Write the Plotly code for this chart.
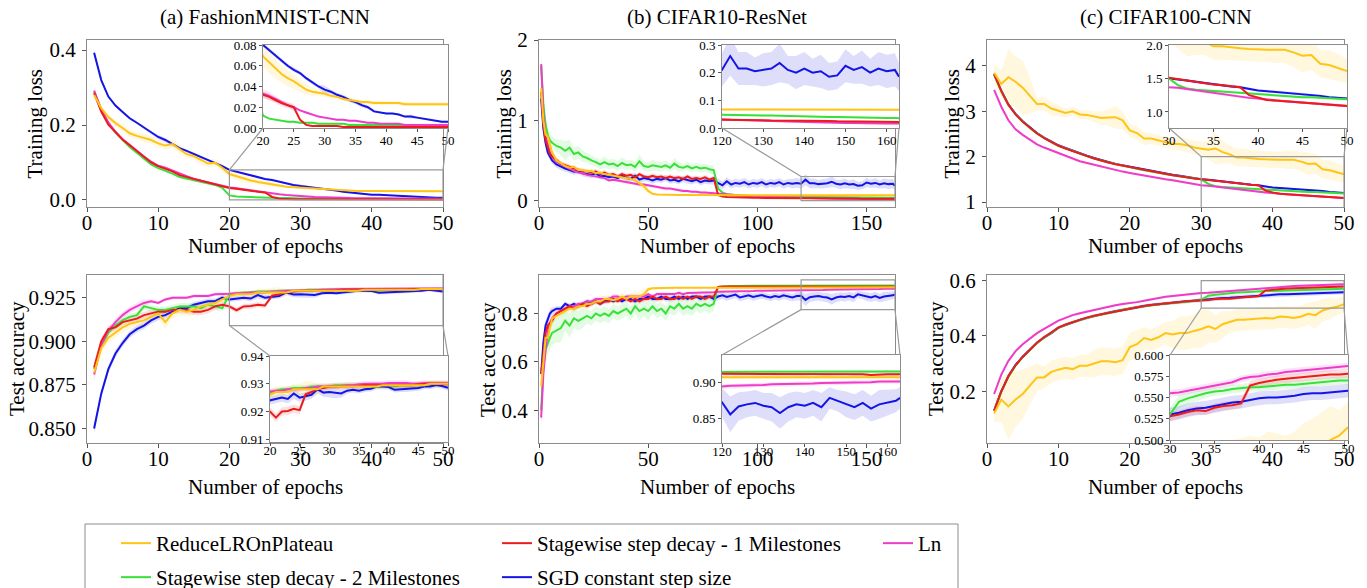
import plotly.graph_objects as go

W, H = 1367, 588
FONT = "Liberation Serif, Times New Roman, DejaVu Serif, serif"

EPOCHS = list(range(1, 51))
EPOCHS_B = [1, 2, 3, 4, 5, 6] + list(range(8, 163, 2)) + [163]

NAMES = {
    "plateau": "ReduceLROnPlateau",
    "step1": "Stagewise step decay - 1 Milestones",
    "ln": "Ln",
    "step2": "Stagewise step decay - 2 Milestones",
    "sgd": "SGD constant step size",
}
COLORS = {
    "plateau": "#ffc414",
    "step1": "#ec1c1c",
    "ln": "#ee3cc8",
    "step2": "#3ae03a",
    "sgd": "#1414e6",
}
DRAW_ORDER = ["sgd", "step2", "ln", "step1", "plateau"]
LEGEND_RANK = {"plateau": 1, "step1": 2, "ln": 3, "step2": 4, "sgd": 5}

# ---------------- (a) FashionMNIST-CNN : training loss ----------------
a_loss_plateau = [0.280, 0.245, 0.221, 0.205, 0.192, 0.178, 0.171, 0.165, 0.160, 0.151,
                  0.145, 0.149, 0.136, 0.122, 0.117, 0.106, 0.097, 0.099, 0.086, 0.069,
                  0.063, 0.057, 0.052, 0.048, 0.045, 0.041, 0.037, 0.035, 0.034, 0.033,
                  0.031, 0.030, 0.028, 0.027, 0.026, 0.025, 0.025, 0.024, 0.024, 0.024,
                  0.024, 0.024, 0.023, 0.023, 0.023, 0.023, 0.023, 0.023, 0.023, 0.023]
a_loss_plateau_sd = [0.004, 0.005, 0.006, 0.008, 0.010, 0.010, 0.010, 0.010, 0.010, 0.010,
                     0.010, 0.012, 0.012, 0.010, 0.010, 0.012, 0.010, 0.010, 0.010, 0.010,
                     0.010, 0.009, 0.008, 0.008, 0.007, 0.006, 0.005, 0.004, 0.003, 0.003,
                     0.002, 0.002, 0.002, 0.002, 0.002, 0.002, 0.002, 0.002, 0.002, 0.002,
                     0.002, 0.002, 0.002, 0.002, 0.002, 0.002, 0.002, 0.002, 0.002, 0.002]
a_loss_step1 = [0.285, 0.236, 0.201, 0.181, 0.161, 0.146, 0.131, 0.115, 0.100, 0.090,
                0.084, 0.076, 0.066, 0.061, 0.055, 0.050, 0.046, 0.042, 0.036, 0.032,
                0.030, 0.027, 0.024, 0.022, 0.020, 0.008, 0.003, 0.002, 0.002, 0.002,
                0.002, 0.002, 0.001, 0.001, 0.001, 0.001, 0.001, 0.001, 0.001, 0.001,
                0.001, 0.001, 0.001, 0.001, 0.001, 0.001, 0.001, 0.001, 0.001, 0.001]
a_loss_step1_sd = [0.004, 0.003, 0.003, 0.003, 0.003, 0.003, 0.003, 0.003, 0.003, 0.003,
                   0.003, 0.003, 0.002, 0.002, 0.002, 0.002, 0.002, 0.002, 0.003, 0.003,
                   0.003, 0.003, 0.003, 0.003, 0.003, 0.002, 0.001, 0.001, 0.001, 0.001,
                   0.001, 0.001, 0.001, 0.001, 0.001, 0.001, 0.001, 0.001, 0.001, 0.001,
                   0.001, 0.001, 0.001, 0.001, 0.001, 0.001, 0.001, 0.001, 0.001, 0.001]
a_loss_ln = [0.292, 0.242, 0.207, 0.182, 0.162, 0.146, 0.131, 0.116, 0.102, 0.091,
             0.086, 0.078, 0.069, 0.063, 0.056, 0.051, 0.046, 0.041, 0.037, 0.033,
             0.031, 0.028, 0.025, 0.022, 0.020, 0.017, 0.015, 0.013, 0.011, 0.010,
             0.009, 0.008, 0.008, 0.007, 0.007, 0.006, 0.005, 0.005, 0.004, 0.004,
             0.004, 0.004, 0.003, 0.003, 0.003, 0.003, 0.003, 0.003, 0.003, 0.003]
a_loss_ln_sd = [0.005, 0.004, 0.004, 0.003, 0.003, 0.003, 0.003, 0.003, 0.003, 0.003,
                0.003, 0.003, 0.003, 0.003, 0.003, 0.003, 0.003, 0.003, 0.004, 0.004,
                0.004, 0.003, 0.002, 0.002, 0.002, 0.001, 0.001, 0.001, 0.001, 0.001,
                0.001, 0.001, 0.001, 0.001, 0.001, 0.001, 0.001, 0.001, 0.001, 0.001,
                0.001, 0.001, 0.001, 0.001, 0.001, 0.001, 0.001, 0.001, 0.001, 0.001]
a_loss_step2 = [0.290, 0.240, 0.205, 0.180, 0.160, 0.141, 0.126, 0.110, 0.095, 0.085,
                0.078, 0.070, 0.061, 0.057, 0.052, 0.048, 0.044, 0.040, 0.032, 0.012,
                0.009, 0.008, 0.007, 0.006, 0.006, 0.005, 0.005, 0.005, 0.004, 0.004,
                0.004, 0.004, 0.004, 0.003, 0.003, 0.003, 0.003, 0.003, 0.003, 0.003,
                0.003, 0.003, 0.003, 0.003, 0.002, 0.002, 0.002, 0.002, 0.002, 0.002]
a_loss_step2_sd = [0.003, 0.002, 0.002, 0.002, 0.002, 0.002, 0.002, 0.002, 0.002, 0.002,
                   0.002, 0.002, 0.002, 0.002, 0.002, 0.002, 0.002, 0.002, 0.002, 0.001,
                   0.001, 0.001, 0.001, 0.001, 0.001, 0.001, 0.001, 0.001, 0.001, 0.001,
                   0.001, 0.001, 0.001, 0.001, 0.001, 0.001, 0.001, 0.001, 0.001, 0.001,
                   0.001, 0.001, 0.001, 0.001, 0.001, 0.001, 0.001, 0.001, 0.001, 0.001]
a_loss_sgd = [0.393, 0.320, 0.276, 0.252, 0.235, 0.218, 0.206, 0.193, 0.179, 0.168,
              0.160, 0.148, 0.138, 0.131, 0.123, 0.113, 0.106, 0.099, 0.090, 0.080,
              0.075, 0.070, 0.065, 0.060, 0.056, 0.053, 0.048, 0.044, 0.040, 0.037,
              0.035, 0.032, 0.030, 0.027, 0.025, 0.022, 0.020, 0.016, 0.015, 0.014,
              0.014, 0.013, 0.011, 0.011, 0.010, 0.009, 0.008, 0.007, 0.006, 0.006]
a_loss_sgd_sd = [0.005, 0.003, 0.003, 0.003, 0.003, 0.003, 0.003, 0.003, 0.004, 0.006,
                 0.006, 0.004, 0.003, 0.003, 0.003, 0.003, 0.003, 0.002, 0.002, 0.002,
                 0.002, 0.002, 0.002, 0.002, 0.002, 0.002, 0.002, 0.002, 0.002, 0.004,
                 0.002, 0.002, 0.002, 0.002, 0.002, 0.002, 0.002, 0.001, 0.001, 0.001,
                 0.001, 0.001, 0.001, 0.002, 0.001, 0.001, 0.001, 0.001, 0.001, 0.001]

# ---------------- (a) FashionMNIST-CNN : test accuracy ----------------
a_acc_plateau = [0.882, 0.896, 0.902, 0.905, 0.908, 0.910, 0.911, 0.912, 0.914, 0.916,
                 0.911, 0.916, 0.918, 0.917, 0.918, 0.920, 0.921, 0.922, 0.924, 0.926,
                 0.927, 0.927, 0.927, 0.928, 0.928, 0.928, 0.928, 0.928, 0.929, 0.929,
                 0.929, 0.929, 0.929, 0.929, 0.929, 0.929, 0.929, 0.929, 0.9295, 0.9295,
                 0.9295, 0.9295, 0.9295, 0.9295, 0.9295, 0.9295, 0.930, 0.930, 0.930, 0.930]
a_acc_plateau_sd = [0.003, 0.003, 0.003, 0.003, 0.003, 0.003, 0.003, 0.003, 0.003, 0.003,
                    0.004, 0.003, 0.003, 0.003, 0.003, 0.003, 0.002, 0.002, 0.002, 0.002,
                    0.002, 0.002, 0.002, 0.002, 0.002, 0.003, 0.003, 0.002, 0.001, 0.001,
                    0.001, 0.001, 0.001, 0.001, 0.001, 0.001, 0.001, 0.001, 0.001, 0.001,
                    0.001, 0.001, 0.001, 0.001, 0.001, 0.001, 0.001, 0.001, 0.001, 0.001]
a_acc_step1 = [0.885, 0.900, 0.907, 0.908, 0.911, 0.912, 0.913, 0.915, 0.916, 0.917,
               0.917, 0.918, 0.918, 0.918, 0.917, 0.917, 0.918, 0.920, 0.921, 0.920,
               0.9178, 0.920, 0.9202, 0.921, 0.9205, 0.9262, 0.927, 0.9282, 0.9285, 0.929,
               0.929, 0.929, 0.929, 0.9292, 0.9292, 0.9295, 0.9295, 0.9295, 0.9295, 0.9295,
               0.9295, 0.9295, 0.9295, 0.9295, 0.9298, 0.930, 0.930, 0.930, 0.930, 0.9298]
a_acc_step1_sd = [0.003, 0.002, 0.002, 0.002, 0.002, 0.002, 0.002, 0.002, 0.002, 0.002,
                  0.002, 0.002, 0.002, 0.002, 0.002, 0.002, 0.002, 0.002, 0.002, 0.0015,
                  0.0015, 0.0015, 0.0015, 0.0015, 0.0015, 0.001, 0.001, 0.001, 0.001, 0.001,
                  0.001, 0.001, 0.001, 0.001, 0.001, 0.001, 0.001, 0.001, 0.001, 0.001,
                  0.001, 0.001, 0.001, 0.001, 0.001, 0.001, 0.001, 0.001, 0.001, 0.001]
a_acc_ln = [0.881, 0.898, 0.906, 0.911, 0.915, 0.918, 0.920, 0.922, 0.923, 0.922,
            0.924, 0.925, 0.925, 0.925, 0.926, 0.926, 0.926, 0.927, 0.927, 0.9272,
            0.9275, 0.9275, 0.928, 0.928, 0.928, 0.9285, 0.9285, 0.929, 0.929, 0.929,
            0.9292, 0.9292, 0.9295, 0.9295, 0.9298, 0.930, 0.930, 0.930, 0.930, 0.9303,
            0.9303, 0.9303, 0.9303, 0.930, 0.930, 0.9303, 0.9303, 0.9303, 0.9303, 0.9303]
a_acc_ln_sd = [0.004, 0.002, 0.002, 0.002, 0.002, 0.002, 0.002, 0.002, 0.001, 0.001,
               0.001, 0.001, 0.001, 0.001, 0.001, 0.001, 0.001, 0.001, 0.001, 0.001,
               0.001, 0.001, 0.001, 0.001, 0.001, 0.001, 0.001, 0.001, 0.001, 0.001,
               0.001, 0.001, 0.001, 0.001, 0.001, 0.001, 0.001, 0.001, 0.001, 0.001,
               0.001, 0.001, 0.001, 0.001, 0.001, 0.001, 0.001, 0.001, 0.001, 0.001]
a_acc_step2 = [0.884, 0.897, 0.905, 0.909, 0.912, 0.914, 0.915, 0.920, 0.919, 0.918,
               0.918, 0.919, 0.920, 0.920, 0.920, 0.919, 0.921, 0.920, 0.919, 0.9268,
               0.9275, 0.928, 0.928, 0.9285, 0.9285, 0.9285, 0.929, 0.929, 0.929, 0.929,
               0.9295, 0.9295, 0.9295, 0.9295, 0.9295, 0.9295, 0.929, 0.929, 0.9295, 0.9295,
               0.929, 0.9295, 0.9295, 0.9295, 0.9295, 0.9295, 0.930, 0.930, 0.930, 0.930]
a_acc_step2_sd = [0.003, 0.002, 0.002, 0.002, 0.002, 0.002, 0.002, 0.002, 0.002, 0.002,
                  0.002, 0.002, 0.002, 0.002, 0.002, 0.002, 0.002, 0.002, 0.002, 0.001,
                  0.001, 0.001, 0.001, 0.001, 0.001, 0.001, 0.001, 0.001, 0.001, 0.001,
                  0.001, 0.001, 0.001, 0.001, 0.001, 0.001, 0.001, 0.001, 0.001, 0.001,
                  0.001, 0.001, 0.001, 0.001, 0.001, 0.001, 0.001, 0.001, 0.001, 0.001]
a_acc_sgd = [0.850, 0.870, 0.884, 0.893, 0.899, 0.904, 0.907, 0.909, 0.912, 0.914,
             0.915, 0.917, 0.919, 0.919, 0.921, 0.922, 0.923, 0.923, 0.925, 0.924,
             0.9245, 0.925, 0.9245, 0.9265, 0.925, 0.9255, 0.926, 0.928, 0.9268, 0.927,
             0.9268, 0.9265, 0.9275, 0.9278, 0.9275, 0.928, 0.9282, 0.929, 0.929, 0.9288,
             0.9278, 0.928, 0.928, 0.9282, 0.9285, 0.929, 0.929, 0.9295, 0.9292, 0.9285]
a_acc_sgd_sd = [0.003, 0.002, 0.002, 0.002, 0.002, 0.002, 0.002, 0.002, 0.002, 0.002,
                0.002, 0.002, 0.0015, 0.0015, 0.0015, 0.0015, 0.0015, 0.0015, 0.0015, 0.0015,
                0.0015, 0.0015, 0.0015, 0.002, 0.0015, 0.0015, 0.0015, 0.0015, 0.0015, 0.002,
                0.002, 0.0015, 0.001, 0.001, 0.001, 0.001, 0.001, 0.001, 0.001, 0.001,
                0.001, 0.001, 0.001, 0.001, 0.001, 0.001, 0.001, 0.001, 0.001, 0.001]

# ---------------- (b) CIFAR10-ResNet : training loss ----------------
b_loss_plateau = [1.40, 1.00, 0.82, 0.80, 0.70, 0.60,
                  0.50, 0.46, 0.43, 0.41, 0.42, 0.38, 0.38, 0.36, 0.37, 0.34,
                  0.35, 0.33, 0.32, 0.31, 0.30, 0.29, 0.28, 0.27, 0.25, 0.22,
                  0.18, 0.12, 0.085, 0.076, 0.073, 0.071, 0.070, 0.070, 0.069, 0.069,
                  0.069, 0.068, 0.068, 0.068, 0.068, 0.068, 0.067, 0.067, 0.067, 0.067,
                  0.067, 0.067, 0.067, 0.067, 0.067, 0.067, 0.067, 0.067, 0.067, 0.067,
                  0.067, 0.066, 0.066, 0.066, 0.066, 0.066, 0.066, 0.066, 0.066, 0.066,
                  0.066, 0.066, 0.066, 0.066, 0.066, 0.066, 0.066, 0.066, 0.066, 0.066,
                  0.066, 0.066, 0.066, 0.066, 0.066, 0.066, 0.066, 0.066,
                  0.066]
b_loss_plateau_sd = [0.06, 0.05, 0.05, 0.05, 0.04, 0.04,
                     0.03, 0.03, 0.03, 0.03, 0.03, 0.03, 0.03, 0.03, 0.03, 0.03,
                     0.03, 0.03, 0.03, 0.03, 0.03, 0.03, 0.04, 0.04, 0.05, 0.06,
                     0.05, 0.03, 0.01, 0.005, 0.004, 0.003, 0.003, 0.003, 0.003, 0.003,
                     0.003, 0.003, 0.003, 0.003, 0.003, 0.003, 0.003, 0.003, 0.003, 0.003,
                     0.003, 0.003, 0.003, 0.003, 0.003, 0.003, 0.003, 0.003, 0.003, 0.003,
                     0.003, 0.003, 0.003, 0.003, 0.003, 0.003, 0.003, 0.003, 0.003, 0.003,
                     0.003, 0.003, 0.003, 0.003, 0.003, 0.003, 0.003, 0.003, 0.003, 0.003,
                     0.003, 0.003, 0.003, 0.003, 0.003, 0.003, 0.003, 0.003,
                     0.003]
b_loss_step1 = [1.35, 0.95, 0.75, 0.65, 0.58, 0.55,
                0.50, 0.46, 0.44, 0.42, 0.40, 0.38, 0.37, 0.36, 0.35, 0.36,
                0.33, 0.35, 0.32, 0.33, 0.30, 0.33, 0.31, 0.32, 0.29, 0.33,
                0.30, 0.29, 0.31, 0.29, 0.30, 0.28, 0.30, 0.28, 0.29, 0.27,
                0.30, 0.27, 0.28, 0.27, 0.29, 0.26, 0.28, 0.07, 0.05, 0.045,
                0.042, 0.040, 0.038, 0.037, 0.036, 0.035, 0.034, 0.034, 0.033, 0.033,
                0.033, 0.032, 0.032, 0.032, 0.031, 0.031, 0.030, 0.030, 0.029, 0.029,
                0.028, 0.028, 0.027, 0.027, 0.026, 0.026, 0.026, 0.025, 0.025, 0.025,
                0.024, 0.024, 0.024, 0.023, 0.023, 0.023, 0.022, 0.022,
                0.022]
b_loss_step1_sd = [0.06, 0.05, 0.04, 0.04, 0.03, 0.03,
                   0.03, 0.03, 0.03, 0.03, 0.03, 0.03, 0.03, 0.03, 0.03, 0.03,
                   0.03, 0.03, 0.03, 0.03, 0.03, 0.03, 0.03, 0.03, 0.03, 0.03,
                   0.03, 0.03, 0.03, 0.03, 0.03, 0.03, 0.03, 0.03, 0.03, 0.03,
                   0.03, 0.03, 0.03, 0.03, 0.03, 0.03, 0.03, 0.01, 0.005, 0.004,
                   0.004, 0.004, 0.004, 0.004, 0.004, 0.004, 0.004, 0.004, 0.004, 0.004,
                   0.004, 0.004, 0.004, 0.004, 0.004, 0.004, 0.004, 0.004, 0.004, 0.004,
                   0.004, 0.004, 0.004, 0.004, 0.004, 0.004, 0.004, 0.004, 0.004, 0.004,
                   0.004, 0.004, 0.004, 0.004, 0.004, 0.004, 0.004, 0.004,
                   0.004]
b_loss_ln = [1.70, 1.10, 0.80, 0.68, 0.60, 0.55,
             0.48, 0.45, 0.42, 0.40, 0.37, 0.35, 0.34, 0.32, 0.31, 0.30,
             0.29, 0.28, 0.25, 0.26, 0.25, 0.24, 0.23, 0.22, 0.21, 0.20,
             0.20, 0.19, 0.18, 0.17, 0.16, 0.15, 0.15, 0.14, 0.13, 0.12,
             0.12, 0.11, 0.11, 0.10, 0.10, 0.095, 0.09, 0.085, 0.08, 0.075,
             0.070, 0.065, 0.060, 0.058, 0.055, 0.052, 0.050, 0.048, 0.046, 0.044,
             0.042, 0.040, 0.038, 0.036, 0.034, 0.033, 0.031, 0.030, 0.029, 0.028,
             0.027, 0.026, 0.025, 0.024, 0.023, 0.022, 0.021, 0.021, 0.020, 0.019,
             0.019, 0.018, 0.018, 0.017, 0.017, 0.017, 0.016, 0.016,
             0.016]
b_loss_ln_sd = [0.10, 0.06, 0.04, 0.03, 0.03, 0.03,
                0.02, 0.02, 0.02, 0.02, 0.02, 0.02, 0.02, 0.02, 0.02, 0.02,
                0.02, 0.02, 0.02, 0.02, 0.02, 0.02, 0.02, 0.02, 0.02, 0.02,
                0.02, 0.02, 0.02, 0.02, 0.02, 0.02, 0.02, 0.02, 0.02, 0.02,
                0.015, 0.015, 0.015, 0.015, 0.015, 0.01, 0.01, 0.01, 0.01, 0.01,
                0.005, 0.005, 0.005, 0.005, 0.005, 0.005, 0.005, 0.005, 0.005, 0.005,
                0.004, 0.004, 0.004, 0.004, 0.004, 0.004, 0.004, 0.004, 0.004, 0.004,
                0.004, 0.004, 0.004, 0.004, 0.004, 0.004, 0.004, 0.004, 0.004, 0.004,
                0.004, 0.004, 0.004, 0.004, 0.004, 0.004, 0.004, 0.004,
                0.004]
b_loss_step2 = [1.68, 1.20, 0.95, 0.82, 0.75, 0.72,
                0.68, 0.66, 0.62, 0.66, 0.58, 0.60, 0.55, 0.53, 0.50, 0.48,
                0.45, 0.48, 0.45, 0.46, 0.43, 0.47, 0.44, 0.45, 0.42, 0.49,
                0.43, 0.42, 0.44, 0.43, 0.42, 0.44, 0.41, 0.46, 0.42, 0.41,
                0.43, 0.40, 0.42, 0.40, 0.41, 0.39, 0.38, 0.15, 0.10, 0.08,
                0.072, 0.066, 0.062, 0.060, 0.058, 0.056, 0.055, 0.054, 0.053, 0.052,
                0.051, 0.050, 0.050, 0.049, 0.049, 0.048, 0.048, 0.047, 0.047, 0.046,
                0.046, 0.045, 0.045, 0.044, 0.044, 0.043, 0.042, 0.042, 0.041, 0.040,
                0.040, 0.039, 0.039, 0.038, 0.038, 0.037, 0.036, 0.036,
                0.035]
b_loss_step2_sd = [0.15, 0.10, 0.08, 0.08, 0.08, 0.08,
                   0.08, 0.10, 0.12, 0.10, 0.08, 0.08, 0.07, 0.06, 0.06, 0.06,
                   0.06, 0.07, 0.06, 0.06, 0.06, 0.07, 0.06, 0.06, 0.06, 0.08,
                   0.06, 0.06, 0.07, 0.06, 0.06, 0.06, 0.05, 0.07, 0.06, 0.05,
                   0.05, 0.05, 0.05, 0.05, 0.05, 0.05, 0.06, 0.02, 0.01, 0.005,
                   0.004, 0.004, 0.004, 0.004, 0.004, 0.004, 0.004, 0.004, 0.004, 0.004,
                   0.004, 0.004, 0.004, 0.004, 0.004, 0.004, 0.004, 0.004, 0.004, 0.004,
                   0.003, 0.003, 0.003, 0.003, 0.003, 0.003, 0.003, 0.003, 0.003, 0.003,
                   0.003, 0.003, 0.003, 0.003, 0.003, 0.003, 0.003, 0.003,
                   0.003]
b_loss_sgd = [1.27, 0.90, 0.72, 0.60, 0.55, 0.50,
              0.45, 0.42, 0.40, 0.38, 0.36, 0.37, 0.34, 0.33, 0.32, 0.34,
              0.30, 0.31, 0.29, 0.30, 0.28, 0.31, 0.28, 0.27, 0.31, 0.26,
              0.28, 0.27, 0.25, 0.27, 0.26, 0.28, 0.25, 0.26, 0.24, 0.27,
              0.25, 0.24, 0.26, 0.23, 0.25, 0.24, 0.25, 0.22, 0.19, 0.24,
              0.20, 0.22, 0.21, 0.23, 0.20, 0.22, 0.21, 0.23, 0.20, 0.22,
              0.21, 0.23, 0.20, 0.22, 0.21, 0.22, 0.21, 0.26, 0.215, 0.215,
              0.205, 0.21, 0.215, 0.235, 0.21, 0.20, 0.215, 0.20, 0.205, 0.185,
              0.19, 0.225, 0.21, 0.22, 0.20, 0.215, 0.205, 0.21,
              0.185]
b_loss_sgd_sd = [0.08, 0.05, 0.04, 0.04, 0.04, 0.04,
                 0.04, 0.04, 0.04, 0.04, 0.04, 0.04, 0.04, 0.04, 0.04, 0.04,
                 0.04, 0.04, 0.04, 0.04, 0.04, 0.04, 0.04, 0.04, 0.04, 0.04,
                 0.04, 0.04, 0.04, 0.04, 0.04, 0.04, 0.04, 0.04, 0.04, 0.04,
                 0.04, 0.04, 0.04, 0.04, 0.04, 0.04, 0.05, 0.05, 0.05, 0.05,
                 0.05, 0.05, 0.05, 0.05, 0.05, 0.05, 0.05, 0.05, 0.05, 0.05,
                 0.05, 0.05, 0.05, 0.05, 0.06, 0.06, 0.06, 0.07, 0.06, 0.06,
                 0.05, 0.06, 0.06, 0.07, 0.05, 0.06, 0.06, 0.05, 0.06, 0.05,
                 0.05, 0.06, 0.05, 0.06, 0.05, 0.06, 0.06, 0.06,
                 0.05]

# ---------------- (b) CIFAR10-ResNet : test accuracy ----------------
b_acc_plateau = [0.50, 0.62, 0.70, 0.70, 0.74, 0.78,
                 0.79, 0.80, 0.81, 0.82, 0.82, 0.83, 0.83, 0.84, 0.84, 0.85,
                 0.85, 0.86, 0.86, 0.855, 0.86, 0.87, 0.86, 0.87, 0.87, 0.87,
                 0.88, 0.90, 0.904, 0.905, 0.905, 0.906, 0.906, 0.906, 0.906, 0.906,
                 0.906, 0.906, 0.906, 0.906, 0.906, 0.906, 0.906, 0.907, 0.907, 0.907,
                 0.907, 0.907, 0.907, 0.907, 0.907, 0.907, 0.907, 0.907, 0.907, 0.907,
                 0.908, 0.908, 0.908, 0.908, 0.908, 0.908, 0.908, 0.908, 0.908, 0.908,
                 0.908, 0.908, 0.908, 0.908, 0.908, 0.908, 0.908, 0.908, 0.908, 0.908,
                 0.908, 0.908, 0.908, 0.908, 0.908, 0.908, 0.908, 0.908,
                 0.908]
b_acc_plateau_sd = [0.03, 0.03, 0.03, 0.02, 0.02, 0.02,
                    0.015, 0.015, 0.015, 0.015, 0.015, 0.015, 0.015, 0.015, 0.015, 0.015,
                    0.015, 0.015, 0.015, 0.015, 0.015, 0.015, 0.015, 0.015, 0.02, 0.02,
                    0.02, 0.01, 0.005, 0.003, 0.002, 0.002, 0.002, 0.002, 0.002, 0.002,
                    0.002, 0.002, 0.002, 0.002, 0.002, 0.002, 0.002, 0.002, 0.002, 0.002,
                    0.002, 0.002, 0.002, 0.002, 0.002, 0.002, 0.002, 0.002, 0.002, 0.002,
                    0.002, 0.002, 0.002, 0.002, 0.002, 0.002, 0.002, 0.002, 0.002, 0.002,
                    0.002, 0.002, 0.002, 0.002, 0.002, 0.002, 0.002, 0.002, 0.002, 0.002,
                    0.002, 0.002, 0.002, 0.002, 0.002, 0.002, 0.002, 0.002,
                    0.002]
b_acc_step1 = [0.55, 0.65, 0.72, 0.75, 0.76, 0.77,
               0.80, 0.81, 0.82, 0.83, 0.82, 0.83, 0.84, 0.83, 0.84, 0.85,
               0.84, 0.85, 0.85, 0.86, 0.85, 0.86, 0.86, 0.85, 0.86, 0.85,
               0.86, 0.86, 0.87, 0.86, 0.86, 0.87, 0.86, 0.86, 0.87, 0.86,
               0.87, 0.86, 0.87, 0.87, 0.86, 0.87, 0.87, 0.91, 0.912, 0.912,
               0.913, 0.912, 0.913, 0.912, 0.913, 0.913, 0.912, 0.913, 0.912, 0.913,
               0.913, 0.912, 0.913, 0.913, 0.912, 0.913, 0.913, 0.912, 0.913, 0.912,
               0.912, 0.913, 0.912, 0.912, 0.913, 0.912, 0.912, 0.913, 0.912, 0.912,
               0.912, 0.913, 0.912, 0.912, 0.911, 0.912, 0.912, 0.912,
               0.912]
b_acc_step1_sd = [0.03, 0.02, 0.02, 0.02, 0.02, 0.02,
                  0.01, 0.01, 0.01, 0.01, 0.01, 0.01, 0.01, 0.01, 0.01, 0.01,
                  0.01, 0.01, 0.01, 0.01, 0.01, 0.01, 0.01, 0.01, 0.01, 0.01,
                  0.01, 0.01, 0.01, 0.01, 0.01, 0.01, 0.01, 0.01, 0.01, 0.01,
                  0.01, 0.01, 0.01, 0.01, 0.01, 0.01, 0.01, 0.003, 0.002, 0.002,
                  0.002, 0.002, 0.002, 0.002, 0.002, 0.002, 0.002, 0.002, 0.002, 0.002,
                  0.002, 0.002, 0.002, 0.002, 0.002, 0.002, 0.002, 0.002, 0.002, 0.002,
                  0.002, 0.002, 0.002, 0.002, 0.002, 0.002, 0.002, 0.002, 0.002, 0.002,
                  0.002, 0.002, 0.002, 0.002, 0.002, 0.002, 0.002, 0.002,
                  0.002]
b_acc_ln = [0.37, 0.55, 0.65, 0.72, 0.76, 0.78,
            0.80, 0.81, 0.82, 0.83, 0.83, 0.84, 0.84, 0.85, 0.85, 0.86,
            0.86, 0.86, 0.86, 0.87, 0.87, 0.86, 0.87, 0.87, 0.87, 0.87,
            0.87, 0.88, 0.87, 0.88, 0.88, 0.88, 0.88, 0.88, 0.885, 0.88,
            0.885, 0.885, 0.885, 0.885, 0.885, 0.885, 0.888, 0.89, 0.89, 0.891,
            0.891, 0.892, 0.892, 0.893, 0.893, 0.893, 0.894, 0.894, 0.894, 0.894,
            0.895, 0.895, 0.895, 0.895, 0.895, 0.895, 0.895, 0.896, 0.896, 0.896,
            0.897, 0.897, 0.898, 0.898, 0.898, 0.899, 0.899, 0.899, 0.900, 0.900,
            0.900, 0.900, 0.901, 0.901, 0.901, 0.902, 0.902, 0.902,
            0.902]
b_acc_ln_sd = [0.05, 0.03, 0.02, 0.02, 0.015, 0.015,
               0.01, 0.01, 0.01, 0.01, 0.01, 0.01, 0.01, 0.01, 0.01, 0.01,
               0.01, 0.01, 0.01, 0.01, 0.01, 0.01, 0.01, 0.01, 0.01, 0.01,
               0.008, 0.008, 0.008, 0.008, 0.008, 0.008, 0.008, 0.008, 0.008, 0.008,
               0.005, 0.005, 0.005, 0.005, 0.005, 0.005, 0.004, 0.003, 0.003, 0.003,
               0.003, 0.003, 0.003, 0.003, 0.003, 0.003, 0.003, 0.003, 0.003, 0.003,
               0.003, 0.003, 0.003, 0.003, 0.003, 0.003, 0.003, 0.003, 0.003, 0.003,
               0.003, 0.003, 0.003, 0.003, 0.003, 0.003, 0.003, 0.003, 0.003, 0.003,
               0.003, 0.003, 0.003, 0.003, 0.003, 0.003, 0.003, 0.003,
               0.003]
b_acc_step2 = [0.40, 0.58, 0.65, 0.68, 0.70, 0.72,
               0.73, 0.74, 0.77, 0.75, 0.78, 0.77, 0.78, 0.79, 0.78, 0.80,
               0.79, 0.80, 0.79, 0.81, 0.80, 0.81, 0.82, 0.80, 0.83, 0.81,
               0.82, 0.81, 0.83, 0.81, 0.82, 0.80, 0.83, 0.82, 0.84, 0.82,
               0.83, 0.82, 0.84, 0.83, 0.84, 0.83, 0.84, 0.91, 0.912, 0.913,
               0.914, 0.914, 0.915, 0.915, 0.915, 0.915, 0.915, 0.915, 0.915, 0.915,
               0.915, 0.916, 0.915, 0.915, 0.916, 0.915, 0.916, 0.915, 0.916, 0.915,
               0.916, 0.916, 0.916, 0.916, 0.916, 0.916, 0.916, 0.916, 0.916, 0.916,
               0.916, 0.916, 0.916, 0.916, 0.916, 0.916, 0.916, 0.916,
               0.916]
b_acc_step2_sd = [0.06, 0.05, 0.05, 0.05, 0.05, 0.05,
                  0.05, 0.06, 0.04, 0.05, 0.04, 0.04, 0.04, 0.03, 0.03, 0.03,
                  0.03, 0.03, 0.03, 0.03, 0.03, 0.03, 0.03, 0.03, 0.03, 0.04,
                  0.03, 0.04, 0.03, 0.03, 0.03, 0.03, 0.03, 0.03, 0.03, 0.03,
                  0.03, 0.03, 0.03, 0.03, 0.03, 0.03, 0.03, 0.005, 0.003, 0.002,
                  0.002, 0.002, 0.002, 0.002, 0.002, 0.002, 0.002, 0.002, 0.002, 0.002,
                  0.002, 0.002, 0.002, 0.002, 0.002, 0.002, 0.002, 0.002, 0.002, 0.002,
                  0.002, 0.002, 0.002, 0.002, 0.002, 0.002, 0.002, 0.002, 0.002, 0.002,
                  0.002, 0.002, 0.002, 0.002, 0.002, 0.002, 0.002, 0.002,
                  0.002]
b_acc_sgd = [0.55, 0.68, 0.75, 0.78, 0.80, 0.81,
             0.82, 0.82, 0.84, 0.83, 0.84, 0.83, 0.84, 0.85, 0.84, 0.85,
             0.84, 0.85, 0.86, 0.85, 0.86, 0.85, 0.86, 0.86, 0.85, 0.86,
             0.86, 0.87, 0.86, 0.86, 0.87, 0.86, 0.86, 0.87, 0.86, 0.87,
             0.86, 0.87, 0.87, 0.86, 0.87, 0.87, 0.86, 0.87, 0.875, 0.868,
             0.872, 0.878, 0.866, 0.870, 0.875, 0.868, 0.872, 0.876, 0.870, 0.866,
             0.872, 0.868, 0.875, 0.870, 0.866, 0.872, 0.873, 0.856, 0.867, 0.870,
             0.872, 0.868, 0.866, 0.858, 0.866, 0.870, 0.868, 0.872, 0.866, 0.879,
             0.875, 0.870, 0.866, 0.872, 0.864, 0.870, 0.872, 0.875,
             0.879]
b_acc_sgd_sd = [0.04, 0.03, 0.02, 0.02, 0.02, 0.015,
                0.01, 0.01, 0.01, 0.01, 0.01, 0.01, 0.01, 0.01, 0.01, 0.01,
                0.01, 0.01, 0.01, 0.01, 0.01, 0.01, 0.01, 0.01, 0.01, 0.01,
                0.01, 0.01, 0.01, 0.01, 0.01, 0.01, 0.01, 0.01, 0.01, 0.01,
                0.01, 0.01, 0.01, 0.01, 0.012, 0.012, 0.012, 0.015, 0.015, 0.015,
                0.015, 0.015, 0.015, 0.015, 0.015, 0.015, 0.015, 0.015, 0.015, 0.015,
                0.015, 0.015, 0.015, 0.015, 0.015, 0.018, 0.02, 0.025, 0.02, 0.018,
                0.018, 0.018, 0.02, 0.022, 0.02, 0.018, 0.018, 0.018, 0.02, 0.015,
                0.015, 0.018, 0.018, 0.018, 0.018, 0.02, 0.018, 0.016,
                0.015]

# ---------------- (c) CIFAR100-CNN : training loss ----------------
c_loss_plateau = [3.85, 3.60, 3.75, 3.65, 3.52, 3.35, 3.16, 3.16, 3.06, 3.01,
                  2.96, 3.00, 2.93, 2.92, 2.88, 2.85, 2.86, 2.87, 2.80, 2.58,
                  2.52, 2.40, 2.40, 2.36, 2.31, 2.28, 2.28, 2.25, 2.20, 2.18,
                  2.15, 2.18, 2.10, 2.05, 1.98, 1.98, 1.96, 1.95, 1.94, 1.93,
                  1.93, 1.93, 1.93, 1.89, 1.84, 1.85, 1.72, 1.70, 1.66, 1.61]
c_loss_plateau_sd = [0.20, 0.30, 0.62, 0.55, 0.60, 0.40, 0.15, 0.15, 0.15, 0.12,
                     0.10, 0.10, 0.10, 0.10, 0.12, 0.15, 0.18, 0.25, 0.20, 0.15,
                     0.15, 0.15, 0.12, 0.12, 0.12, 0.12, 0.15, 0.15, 0.15, 0.15,
                     0.20, 0.35, 0.25, 0.20, 0.20, 0.20, 0.18, 0.18, 0.18, 0.18,
                     0.18, 0.20, 0.20, 0.22, 0.25, 0.22, 0.20, 0.22, 0.20, 0.18]
c_loss_step1 = [3.82, 3.45, 3.14, 2.93, 2.77, 2.63, 2.51, 2.41, 2.32, 2.24,
                2.18, 2.12, 2.06, 2.01, 1.96, 1.91, 1.87, 1.83, 1.80, 1.76,
                1.73, 1.70, 1.67, 1.64, 1.61, 1.59, 1.57, 1.54, 1.52, 1.50,
                1.49, 1.47, 1.45, 1.43, 1.41, 1.40, 1.38, 1.37, 1.25, 1.21,
                1.18, 1.17, 1.16, 1.15, 1.13, 1.12, 1.11, 1.11, 1.10, 1.09]
c_loss_step1_sd = [0.03, 0.02, 0.02, 0.02, 0.02, 0.02, 0.02, 0.02, 0.02, 0.02,
                   0.02, 0.02, 0.02, 0.02, 0.02, 0.02, 0.02, 0.02, 0.02, 0.02,
                   0.02, 0.02, 0.02, 0.02, 0.02, 0.02, 0.02, 0.02, 0.02, 0.02,
                   0.02, 0.02, 0.02, 0.02, 0.02, 0.02, 0.02, 0.02, 0.02, 0.02,
                   0.02, 0.02, 0.02, 0.02, 0.02, 0.02, 0.02, 0.02, 0.02, 0.02]
c_loss_ln = [3.47, 3.10, 2.80, 2.60, 2.48, 2.37, 2.27, 2.20, 2.14, 2.07,
             2.01, 1.95, 1.90, 1.86, 1.82, 1.78, 1.74, 1.70, 1.67, 1.64,
             1.61, 1.58, 1.56, 1.53, 1.50, 1.48, 1.45, 1.43, 1.40, 1.37,
             1.36, 1.34, 1.32, 1.30, 1.28, 1.27, 1.25, 1.23, 1.21, 1.20,
             1.18, 1.17, 1.16, 1.15, 1.14, 1.13, 1.12, 1.11, 1.10, 1.09]
c_loss_ln_sd = [0.03, 0.02, 0.02, 0.02, 0.02, 0.02, 0.02, 0.02, 0.02, 0.02,
                0.02, 0.02, 0.02, 0.02, 0.02, 0.02, 0.02, 0.02, 0.02, 0.02,
                0.02, 0.02, 0.02, 0.02, 0.02, 0.02, 0.02, 0.02, 0.02, 0.02,
                0.02, 0.02, 0.02, 0.02, 0.02, 0.02, 0.02, 0.02, 0.02, 0.02,
                0.02, 0.02, 0.02, 0.02, 0.02, 0.02, 0.02, 0.02, 0.02, 0.02]
c_loss_step2 = [3.81, 3.44, 3.14, 2.93, 2.78, 2.63, 2.51, 2.41, 2.32, 2.24,
                2.18, 2.12, 2.06, 2.01, 1.96, 1.91, 1.87, 1.84, 1.80, 1.76,
                1.73, 1.70, 1.67, 1.64, 1.62, 1.59, 1.57, 1.55, 1.52, 1.50,
                1.40, 1.35, 1.33, 1.32, 1.31, 1.30, 1.29, 1.28, 1.27, 1.26,
                1.25, 1.25, 1.24, 1.23, 1.22, 1.22, 1.21, 1.20, 1.20, 1.19]
c_loss_step2_sd = c_loss_step1_sd
c_loss_sgd = [3.82, 3.45, 3.15, 2.94, 2.78, 2.64, 2.52, 2.42, 2.33, 2.25,
              2.19, 2.13, 2.07, 2.02, 1.97, 1.92, 1.88, 1.84, 1.81, 1.77,
              1.74, 1.71, 1.68, 1.65, 1.62, 1.60, 1.58, 1.55, 1.53, 1.50,
              1.49, 1.47, 1.45, 1.43, 1.42, 1.40, 1.38, 1.37, 1.34, 1.32,
              1.31, 1.30, 1.29, 1.28, 1.26, 1.25, 1.24, 1.22, 1.21, 1.20]
c_loss_sgd_sd = c_loss_step1_sd

# ---------------- (c) CIFAR100-CNN : test accuracy ----------------
c_acc_plateau = [0.120, 0.170, 0.145, 0.170, 0.190, 0.220, 0.250, 0.250, 0.270, 0.278,
                 0.285, 0.280, 0.292, 0.292, 0.300, 0.308, 0.308, 0.305, 0.312, 0.360,
                 0.370, 0.392, 0.385, 0.395, 0.410, 0.405, 0.410, 0.410, 0.418, 0.425,
                 0.435, 0.425, 0.442, 0.450, 0.458, 0.458, 0.460, 0.462, 0.465, 0.463,
                 0.470, 0.468, 0.465, 0.470, 0.480, 0.475, 0.492, 0.500, 0.505, 0.515]
c_acc_plateau_sd = [0.03, 0.08, 0.12, 0.10, 0.09, 0.07, 0.05, 0.04, 0.04, 0.04,
                    0.04, 0.04, 0.04, 0.04, 0.05, 0.05, 0.05, 0.05, 0.05, 0.05,
                    0.05, 0.04, 0.04, 0.04, 0.04, 0.05, 0.06, 0.06, 0.06, 0.07,
                    0.06, 0.05, 0.05, 0.04, 0.04, 0.04, 0.04, 0.04, 0.04, 0.04,
                    0.04, 0.04, 0.04, 0.04, 0.04, 0.05, 0.04, 0.04, 0.03, 0.03]
c_acc_step1 = [0.130, 0.199, 0.254, 0.294, 0.324, 0.350, 0.375, 0.395, 0.411, 0.430,
               0.441, 0.450, 0.458, 0.466, 0.473, 0.478, 0.484, 0.489, 0.494, 0.500,
               0.504, 0.508, 0.512, 0.515, 0.518, 0.520, 0.523, 0.525, 0.527, 0.528,
               0.530, 0.533, 0.535, 0.534, 0.538, 0.540, 0.541, 0.543, 0.564, 0.567,
               0.569, 0.571, 0.572, 0.573, 0.574, 0.575, 0.576, 0.577, 0.577, 0.578]
c_acc_step1_sd = [0.006, 0.005, 0.005, 0.005, 0.005, 0.005, 0.005, 0.005, 0.005, 0.005,
                  0.005, 0.005, 0.005, 0.005, 0.005, 0.005, 0.005, 0.005, 0.005, 0.005,
                  0.005, 0.005, 0.005, 0.005, 0.005, 0.005, 0.005, 0.005, 0.005, 0.005,
                  0.005, 0.005, 0.005, 0.005, 0.005, 0.005, 0.005, 0.005, 0.005, 0.005,
                  0.005, 0.005, 0.005, 0.005, 0.005, 0.005, 0.005, 0.005, 0.005, 0.005]
c_acc_ln = [0.190, 0.260, 0.310, 0.345, 0.370, 0.390, 0.410, 0.425, 0.440, 0.455,
            0.465, 0.475, 0.482, 0.488, 0.494, 0.500, 0.506, 0.511, 0.515, 0.518,
            0.522, 0.527, 0.532, 0.537, 0.541, 0.544, 0.547, 0.550, 0.552, 0.555,
            0.556, 0.558, 0.560, 0.562, 0.564, 0.566, 0.568, 0.572, 0.574, 0.575,
            0.577, 0.578, 0.580, 0.581, 0.582, 0.583, 0.584, 0.585, 0.586, 0.587]
c_acc_ln_sd = [0.006, 0.004, 0.004, 0.004, 0.004, 0.004, 0.004, 0.004, 0.004, 0.004,
               0.004, 0.004, 0.004, 0.004, 0.004, 0.004, 0.004, 0.004, 0.004, 0.004,
               0.004, 0.004, 0.004, 0.004, 0.004, 0.004, 0.004, 0.004, 0.004, 0.004,
               0.004, 0.004, 0.004, 0.004, 0.004, 0.004, 0.004, 0.004, 0.004, 0.004,
               0.004, 0.004, 0.004, 0.004, 0.004, 0.004, 0.004, 0.004, 0.004, 0.004]
c_acc_step2 = [0.128, 0.198, 0.252, 0.293, 0.323, 0.349, 0.374, 0.394, 0.410, 0.429,
               0.440, 0.450, 0.457, 0.465, 0.472, 0.477, 0.483, 0.488, 0.493, 0.499,
               0.503, 0.507, 0.511, 0.514, 0.517, 0.519, 0.521, 0.524, 0.526, 0.530,
               0.545, 0.549, 0.552, 0.555, 0.557, 0.558, 0.560, 0.561, 0.562, 0.562,
               0.563, 0.564, 0.565, 0.565, 0.566, 0.567, 0.568, 0.569, 0.570, 0.570]
c_acc_step2_sd = [0.006, 0.005, 0.005, 0.005, 0.005, 0.005, 0.005, 0.005, 0.005, 0.005,
                  0.005, 0.005, 0.005, 0.005, 0.005, 0.005, 0.005, 0.005, 0.005, 0.005,
                  0.005, 0.005, 0.005, 0.005, 0.005, 0.005, 0.005, 0.005, 0.005, 0.008,
                  0.008, 0.007, 0.006, 0.006, 0.005, 0.005, 0.005, 0.005, 0.005, 0.005,
                  0.005, 0.005, 0.005, 0.005, 0.005, 0.005, 0.005, 0.005, 0.005, 0.005]
c_acc_sgd = [0.130, 0.200, 0.255, 0.295, 0.325, 0.350, 0.375, 0.395, 0.410, 0.430,
             0.440, 0.450, 0.458, 0.465, 0.472, 0.478, 0.484, 0.489, 0.494, 0.500,
             0.504, 0.508, 0.512, 0.515, 0.518, 0.520, 0.522, 0.525, 0.527, 0.530,
             0.532, 0.535, 0.537, 0.538, 0.540, 0.542, 0.544, 0.545, 0.547, 0.549,
             0.550, 0.550, 0.551, 0.552, 0.554, 0.555, 0.555, 0.556, 0.557, 0.558]
c_acc_sgd_sd = [0.007, 0.006, 0.006, 0.006, 0.006, 0.006, 0.006, 0.006, 0.006, 0.006,
                0.006, 0.006, 0.006, 0.006, 0.006, 0.006, 0.006, 0.006, 0.006, 0.006,
                0.006, 0.006, 0.006, 0.006, 0.006, 0.006, 0.006, 0.006, 0.006, 0.008,
                0.008, 0.008, 0.008, 0.008, 0.008, 0.008, 0.008, 0.008, 0.008, 0.008,
                0.008, 0.008, 0.008, 0.008, 0.008, 0.008, 0.008, 0.008, 0.008, 0.008]


def series(plateau, step1, ln, step2, sgd):
    return {"plateau": plateau, "step1": step1, "ln": ln, "step2": step2, "sgd": sgd}


def px_x(a, b):
    return [a / W, b / W]


def px_y(top, bottom):
    return [1 - bottom / H, 1 - top / H]


TOP, BOT = (40, 207), (275, 443)
COLS = [(87, 443), (539, 895), (987, 1344)]

panels = [
    dict(x=EPOCHS, mean=series(a_loss_plateau, a_loss_step1, a_loss_ln, a_loss_step2, a_loss_sgd),
         sd=series(a_loss_plateau_sd, a_loss_step1_sd, a_loss_ln_sd, a_loss_step2_sd, a_loss_sgd_sd),
         col=0, row=TOP, xr=[0, 50], yr=[-0.019, 0.427], xt=[0, 10, 20, 30, 40, 50],
         yt=[0, 0.2, 0.4], yf=".1f", ytitle="Training loss",
         ibox=(263, 448, 45, 128), ixr=[20, 50], iyr=[0, 0.08], ixt=[20, 25, 30, 35, 40, 45, 50],
         iyt=[0, 0.02, 0.04, 0.06, 0.08], iyf=".2f", above=True),
    dict(x=EPOCHS_B, mean=series(b_loss_plateau, b_loss_step1, b_loss_ln, b_loss_step2, b_loss_sgd),
         sd=series(b_loss_plateau_sd, b_loss_step1_sd, b_loss_ln_sd, b_loss_step2_sd, b_loss_sgd_sd),
         col=1, row=TOP, xr=[0, 163], yr=[-0.08, 2.0], xt=[0, 50, 100, 150],
         yt=[0, 1, 2], yf="d", ytitle="Training loss",
         ibox=(722, 899, 45, 128), ixr=[120, 163], iyr=[0, 0.3], ixt=[120, 130, 140, 150, 160],
         iyt=[0, 0.1, 0.2, 0.3], iyf=".1f", above=True),
    dict(x=EPOCHS, mean=series(c_loss_plateau, c_loss_step1, c_loss_ln, c_loss_step2, c_loss_sgd),
         sd=series(c_loss_plateau_sd, c_loss_step1_sd, c_loss_ln_sd, c_loss_step2_sd, c_loss_sgd_sd),
         col=2, row=TOP, xr=[0, 50], yr=[0.89, 4.57], xt=[0, 10, 20, 30, 40, 50],
         yt=[1, 2, 3, 4], yf="d", ytitle="Training loss",
         ibox=(1169, 1347, 45, 128), ixr=[30, 50], iyr=[0.76, 2.0], ixt=[30, 35, 40, 45, 50],
         iyt=[1.0, 1.5, 2.0], iyf=".1f", above=True),
    dict(x=EPOCHS, mean=series(a_acc_plateau, a_acc_step1, a_acc_ln, a_acc_step2, a_acc_sgd),
         sd=series(a_acc_plateau_sd, a_acc_step1_sd, a_acc_ln_sd, a_acc_step2_sd, a_acc_sgd_sd),
         col=0, row=BOT, xr=[0, 50], yr=[0.8417, 0.938], xt=[0, 10, 20, 30, 40, 50],
         yt=[0.85, 0.875, 0.9, 0.925], yf=".3f", ytitle="Test accuracy",
         ibox=(270, 448, 356, 442), ixr=[20, 50], iyr=[0.909, 0.94], ixt=[20, 25, 30, 35, 40, 45, 50],
         iyt=[0.91, 0.92, 0.93, 0.94], iyf=".2f", above=False),
    dict(x=EPOCHS_B, mean=series(b_acc_plateau, b_acc_step1, b_acc_ln, b_acc_step2, b_acc_sgd),
         sd=series(b_acc_plateau_sd, b_acc_step1_sd, b_acc_ln_sd, b_acc_step2_sd, b_acc_sgd_sd),
         col=1, row=BOT, xr=[0, 163], yr=[0.265, 0.959], xt=[0, 50, 100, 150],
         yt=[0.4, 0.6, 0.8], yf=".1f", ytitle="Test accuracy",
         ibox=(722, 900, 355, 443), ixr=[120, 163], iyr=[0.816, 0.939], ixt=[120, 130, 140, 150, 160],
         iyt=[0.85, 0.9], iyf=".2f", above=False),
    dict(x=EPOCHS, mean=series(c_acc_plateau, c_acc_step1, c_acc_ln, c_acc_step2, c_acc_sgd),
         sd=series(c_acc_plateau_sd, c_acc_step1_sd, c_acc_ln_sd, c_acc_step2_sd, c_acc_sgd_sd),
         col=2, row=BOT, xr=[0, 50], yr=[0.013, 0.62], xt=[0, 10, 20, 30, 40, 50],
         yt=[0.2, 0.4, 0.6], yf=".1f", ytitle="Test accuracy",
         ibox=(1170, 1348, 355, 440), ixr=[30, 50], iyr=[0.5, 0.6], ixt=[30, 35, 40, 45, 50],
         iyt=[0.5, 0.525, 0.55, 0.575, 0.6], iyf=".3f", above=False),
]

TITLES = ["(a) FashionMNIST-CNN", "(b) CIFAR10-ResNet", "(c) CIFAR100-CNN"]
YTITLE_X = [[35, 504, 952], [17, 488, 936]]
XLABEL_SHIFT = {True: -7, False: -7}        # main x tick labels, top row / bottom row
INSET_XLABEL_SHIFT = {True: -3, False: -7}  # inset x tick labels, top row / bottom row


def rgba(hex_color, a):
    h = hex_color.lstrip("#")
    return "rgba(%d,%d,%d,%.2f)" % (int(h[0:2], 16), int(h[2:4], 16), int(h[4:6], 16), a)


def axis_style(size, ticklen, standoff=0):
    return dict(showline=True, mirror=True, linecolor="#8c8c8c", linewidth=1,
                ticks="outside", ticklen=ticklen, tickwidth=1, tickcolor="#555",
                ticklabelstandoff=standoff,
                tickfont=dict(family=FONT, size=size, color="black"),
                showgrid=False, zeroline=False, fixedrange=True)


def lerp(dom, rng, v):
    return dom[0] + (v - rng[0]) / (rng[1] - rng[0]) * (dom[1] - dom[0])


fig = go.Figure()
layout = {}
shapes = []
annotations = []

for i, p in enumerate(panels):
    mid, iid = i + 1, i + 7
    for axis_id, inset in ((mid, False), (iid, True)):
        sfx = "" if axis_id == 1 else str(axis_id)
        xa, ya = "x" + sfx, "y" + sfx
        for k in DRAW_ORDER:
            m, s = p["mean"][k], p["sd"][k]
            assert len(m) == len(p["x"]) and len(s) == len(p["x"])
            upper = [a + b for a, b in zip(m, s)]
            lower = [a - b for a, b in zip(m, s)]
            fig.add_trace(go.Scatter(x=p["x"] + p["x"][::-1], y=upper + lower[::-1],
                                     fill="toself", fillcolor=rgba(COLORS[k], 0.14),
                                     line=dict(width=0), mode="lines", hoverinfo="skip",
                                     showlegend=False, xaxis=xa, yaxis=ya))
        for k in DRAW_ORDER:
            show = (i == 0 and not inset)
            fig.add_trace(go.Scatter(x=p["x"], y=p["mean"][k], mode="lines", name=NAMES[k],
                                     line=dict(color=COLORS[k], width=2),
                                     showlegend=show, legendrank=LEGEND_RANK[k],
                                     legend="legend" if k in ("plateau", "step1", "ln") else "legend2",
                                     xaxis=xa, yaxis=ya))

    c0, c1 = COLS[p["col"]]
    dx, dy = px_x(c0, c1), px_y(*p["row"])
    xax = axis_style(21, 4, XLABEL_SHIFT[p["above"]])
    xax.update(domain=dx, range=p["xr"], tickvals=p["xt"], anchor="y" + ("" if mid == 1 else str(mid)))
    yax = axis_style(21, 4, 2)
    yax.update(domain=dy, range=p["yr"], tickvals=p["yt"], tickformat=p["yf"], anchor="x" + ("" if mid == 1 else str(mid)))
    layout["xaxis" + ("" if mid == 1 else str(mid))] = xax
    layout["yaxis" + ("" if mid == 1 else str(mid))] = yax

    b = p["ibox"]
    idx, idy = px_x(b[0], b[1]), px_y(b[2], b[3])
    ixax = axis_style(13, 3, INSET_XLABEL_SHIFT[p["above"]])
    ixax.update(domain=idx, range=p["ixr"], tickvals=p["ixt"], anchor="y%d" % iid)
    iyax = axis_style(13, 3)
    iyax.update(domain=idy, range=p["iyr"], tickvals=p["iyt"], tickformat=p["iyf"], anchor="x%d" % iid)
    layout["xaxis%d" % iid] = ixax
    layout["yaxis%d" % iid] = iyax

    # zoom rectangle on the main axes
    sfx = "" if mid == 1 else str(mid)
    shapes.append(dict(type="rect", xref="x" + sfx, yref="y" + sfx,
                       x0=p["ixr"][0], x1=p["ixr"][1], y0=p["iyr"][0], y1=p["iyr"][1],
                       line=dict(color="#9a9a9a", width=1.2), layer="above"))
    # connector lines from rectangle corners to the inset
    ry = p["iyr"][1] if p["above"] else p["iyr"][0]
    iy = idy[0] if p["above"] else idy[1]
    for xv, ix in ((p["ixr"][0], idx[0]), (p["ixr"][1], idx[1])):
        y_clip = min(max(ry, p["yr"][0]), p["yr"][1])
        shapes.append(dict(type="line", xref="paper", yref="paper",
                           x0=lerp(dx, p["xr"], xv), y0=lerp(dy, p["yr"], y_clip),
                           x1=ix, y1=iy, line=dict(color="#9a9a9a", width=1.2), layer="above"))

    # axis titles
    r = 0 if p["row"] == TOP else 1
    annotations.append(dict(text=p["ytitle"], xref="paper", yref="paper", textangle=-90,
                            x=YTITLE_X[r][p["col"]] / W, y=sum(dy) / 2, showarrow=False,
                            xanchor="center", yanchor="middle",
                            font=dict(family=FONT, size=21, color="black")))
    annotations.append(dict(text="Number of epochs", xref="paper", yref="paper",
                            x=sum(dx) / 2, y=1 - (246 if r == 0 else 487) / H, showarrow=False,
                            xanchor="center", yanchor="middle",
                            font=dict(family=FONT, size=21, color="black")))
    if r == 0:
        annotations.append(dict(text=TITLES[p["col"]], xref="paper", yref="paper",
                                x=sum(dx) / 2, y=1 - 17 / H, showarrow=False,
                                xanchor="center", yanchor="middle",
                                font=dict(family=FONT, size=21, color="black")))

# legend frame
shapes.append(dict(type="rect", xref="paper", yref="paper", x0=85 / W, x1=958 / W,
                   y0=-0.05, y1=1 - 524 / H, line=dict(color="#8c8c8c", width=1),
                   fillcolor="rgba(0,0,0,0)", layer="above"))

legend_common = dict(orientation="h", xanchor="left", yanchor="top", entrywidth=336,
                     font=dict(family=FONT, size=21, color="black"),
                     bgcolor="rgba(0,0,0,0)", borderwidth=0, itemclick=False, itemdoubleclick=False)

fig.update_layout(
    width=W, height=H,
    # the second legend row runs off the bottom edge as in the original; do not let it push the plots
    margin=dict(l=0, r=0, t=0, b=0, autoexpand=False),
    template="none", paper_bgcolor="white", plot_bgcolor="white",
    font=dict(family=FONT, size=21, color="black"),
    shapes=shapes, annotations=annotations,
    legend=dict(x=116 / W, y=1 - 523 / H, **legend_common),
    legend2=dict(x=116 / W, y=1 - 557 / H, **legend_common),
    **layout,
)

# the page body keeps its default 8px margin otherwise, which shifts the figure
fig.write_html("out.html", config={"displayModeBar": False},
               post_script="document.body.style.margin='0';document.body.style.overflow='hidden';")
